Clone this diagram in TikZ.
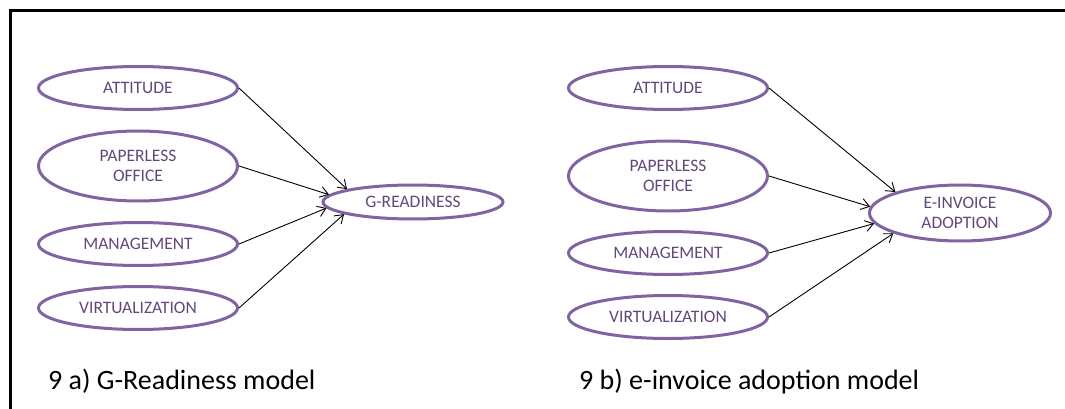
\documentclass[tikz,border=0pt]{standalone}
\usepackage{fontspec}
\setmainfont{Carlito}
\usetikzlibrary{shapes.geometric,arrows.meta}

\definecolor{ovalline}{HTML}{8064A2}
\definecolor{ovaltext}{HTML}{60497A}

\tikzset{
  oval/.style={ellipse,draw=ovalline,line width=3pt,text=ovaltext,
    inner sep=0pt,align=center,font=\fontsize{17.5}{20}\selectfont},
  factor/.style={oval,minimum width=199pt,minimum height=43pt},
  bigfactor/.style={oval,minimum width=199pt,minimum height=70pt},
  link/.style={line width=0.9pt,-{Straight Barb[length=8pt,width=11pt]}},
  caption/.style={anchor=base west,inner sep=0pt,font=\fontsize{28}{32}\selectfont}
}

\begin{document}
\begin{tikzpicture}[x=1pt,y=-1pt]
  \useasboundingbox (0,0) rectangle (1065,409);

  % Frame
  \draw[line width=3pt] (10,409) -- (10,11) -- (1065,11);

  % G-Readiness model
  \node[factor] (aatt) at (138,88) {ATTITUDE};
  \node[bigfactor] (apap) at (138,166) {PAPERLESS\\OFFICE};
  \node[factor] (aman) at (138,244) {MANAGEMENT};
  \node[factor] (avir) at (138,308) {VIRTUALIZATION};
  \node[oval,minimum width=180pt,minimum height=34pt] (gready) at (413,202) {G-READINESS};

  \draw[link] (aatt.east) -- (gready.169);
  \draw[link] (apap.east) -- (gready.175);
  \draw[link] (aman.east) -- (gready.184);
  \draw[link] (avir.east) -- (gready.190);

  % e-invoice adoption model
  \node[factor] (batt) at (668,88) {ATTITUDE};
  \node[bigfactor] (bpap) at (668,176) {PAPERLESS\\OFFICE};
  \node[factor] (bman) at (668,253) {MANAGEMENT};
  \node[factor] (bvir) at (668,317) {VIRTUALIZATION};
  \node[oval,minimum width=181pt,minimum height=56pt] (einv) at (960,213) {E-INVOICE\\ADOPTION};

  \draw[link] (batt.east) -- (einv.162);
  \draw[link] (bpap.east) -- (einv.176);
  \draw[link] (bman.east) -- (einv.187);
  \draw[link] (bvir.east) -- (einv.197);

  % Captions
  \node[caption] (capa) at (48,389) {9 a) G-Readiness model};
  \node[caption] (capb) at (579,389) {9 b) e-invoice adoption model};
\end{tikzpicture}
\end{document}
